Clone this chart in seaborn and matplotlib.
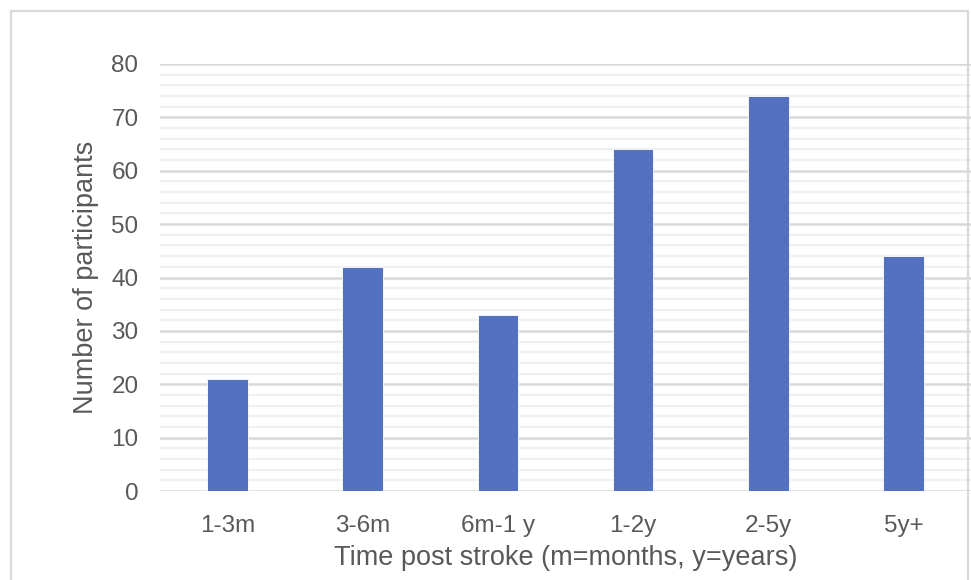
import matplotlib
matplotlib.use("Agg")
import matplotlib.pyplot as plt
from matplotlib.patches import Rectangle
from matplotlib.ticker import MultipleLocator
import seaborn as sns
import pandas as pd

categories = ["1-3m", "3-6m", "6m-1 y", "1-2y", "2-5y", "5y+"]
participants = [21, 42, 33, 64, 74, 44]

df = pd.DataFrame({"period": categories, "count": participants})

sns.set_theme(style="white")
plt.rcParams["font.family"] = ["Liberation Sans", "DejaVu Sans"]

text_color = "#595959"

fig = plt.figure(figsize=(9.71, 5.80), dpi=100)
ax = fig.add_axes([160 / 971, 1 - 491 / 580, 1 - 160 / 971, (491 - 64) / 580])

sns.barplot(data=df, x="period", y="count", color="#5471C1", width=0.3,
            saturation=1, edgecolor="white", linewidth=0.6, ax=ax, zorder=3)

ax.set_ylim(0, 80)
ax.set_xlim(-0.5, len(categories) - 0.5)
ax.yaxis.set_major_locator(MultipleLocator(10))
ax.yaxis.set_minor_locator(MultipleLocator(2))
ax.grid(which="major", axis="y", color="#D9D9D9", linewidth=1.8, zorder=1)
ax.grid(which="minor", axis="y", color="#F0F0F0", linewidth=1.6, zorder=0)
ax.set_axisbelow(True)
for s in ax.spines.values():
    s.set_visible(False)

ax.tick_params(axis="both", which="both", length=0, labelsize=17.5, colors=text_color)
ax.tick_params(axis="y", pad=15.5)
ax.tick_params(axis="x", pad=17)
ax.set_xlabel("Time post stroke (m=months, y=years)", fontsize=19.5, color=text_color, labelpad=6)
ax.set_ylabel("Number of participants", fontsize=19.5, color=text_color, labelpad=9)

# outer chart frame
fig.patches.append(Rectangle((11 / 971, -0.05), (968 - 11) / 971, 1 - 11 / 580 + 0.05,
                             transform=fig.transFigure, fill=False,
                             edgecolor="#D9D9D9", linewidth=1.6, zorder=10))

fig.savefig("out.png", dpi=100, facecolor="white")
